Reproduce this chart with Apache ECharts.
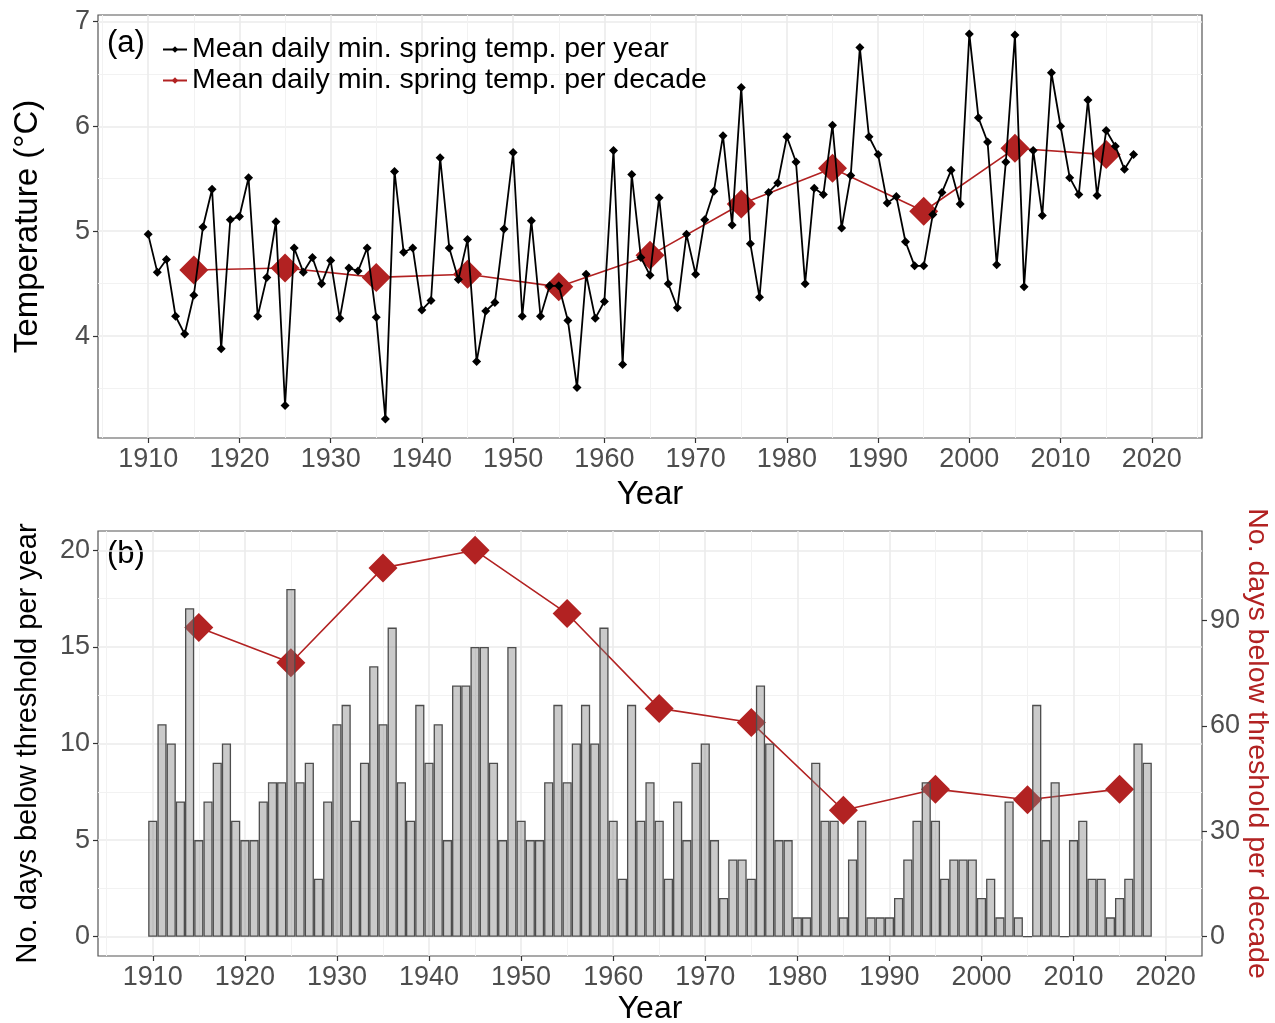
<!DOCTYPE html>
<html>
<head>
<meta charset="utf-8">
<title>Spring temperature and cold days</title>
<script src="https://cdn.jsdelivr.net/npm/echarts@6/dist/echarts.min.js"></script>
<style>
  html, body { margin: 0; padding: 0; background: #fff; }
  #main { width: 1275px; height: 1023px; }
</style>
</head>
<body>
<div id="main"></div>
<script>
// years of record
const years = [
  1910, 1911, 1912, 1913, 1914, 1915, 1916, 1917, 1918, 1919,
  1920, 1921, 1922, 1923, 1924, 1925, 1926, 1927, 1928, 1929,
  1930, 1931, 1932, 1933, 1934, 1935, 1936, 1937, 1938, 1939,
  1940, 1941, 1942, 1943, 1944, 1945, 1946, 1947, 1948, 1949,
  1950, 1951, 1952, 1953, 1954, 1955, 1956, 1957, 1958, 1959,
  1960, 1961, 1962, 1963, 1964, 1965, 1966, 1967, 1968, 1969,
  1970, 1971, 1972, 1973, 1974, 1975, 1976, 1977, 1978, 1979,
  1980, 1981, 1982, 1983, 1984, 1985, 1986, 1987, 1988, 1989,
  1990, 1991, 1992, 1993, 1994, 1995, 1996, 1997, 1998, 1999,
  2000, 2001, 2002, 2003, 2004, 2005, 2006, 2007, 2008, 2009,
  2010, 2011, 2012, 2013, 2014, 2015, 2016, 2017, 2018
];

// (a) mean daily min spring temp per year
const tempYear = [
  4.97, 4.61, 4.73, 4.19, 4.02, 4.39, 5.04, 5.40, 3.88, 5.11,
  5.14, 5.51, 4.19, 4.56, 5.09, 3.34, 4.84, 4.61, 4.75, 4.50,
  4.72, 4.17, 4.65, 4.62, 4.84, 4.18, 3.21, 5.57, 4.80, 4.84,
  4.25, 4.34, 5.70, 4.84, 4.54, 4.92, 3.76, 4.24, 4.32, 5.02,
  5.75, 4.19, 5.10, 4.19, 4.48, 4.48, 4.15, 3.51, 4.59, 4.17,
  4.33, 5.77, 3.73, 5.54, 4.75, 4.58, 5.32, 4.50, 4.27, 4.97,
  4.59, 5.11, 5.38, 5.91, 5.06, 6.37, 4.88, 4.37, 5.37, 5.46,
  5.90, 5.66, 4.50, 5.41, 5.35, 6.01, 5.03, 5.53, 6.75, 5.90,
  5.73, 5.27, 5.33, 4.90, 4.67, 4.67, 5.16, 5.37, 5.58, 5.26,
  6.88, 6.08, 5.85, 4.68, 5.66, 6.87, 4.47, 5.77, 5.15, 6.51,
  6.00, 5.51, 5.35, 6.25, 5.34, 5.96, 5.81, 5.59, 5.73
];

// decade midpoints and decade values
const decadeMid = [1915, 1925, 1935, 1945, 1955, 1965, 1975, 1985, 1995, 2005, 2015];
const tempDecade = [4.63, 4.65, 4.56, 4.59, 4.47, 4.77, 5.26, 5.60, 5.19, 5.79, 5.73];

// (b) no. days below threshold
const daysYear = [
  6, 11, 10, 7, 17, 5, 7, 9, 10, 6,
  5, 5, 7, 8, 8, 18, 8, 9, 3, 7,
  11, 12, 6, 9, 14, 11, 16, 8, 6, 12,
  9, 11, 5, 13, 13, 15, 15, 9, 5, 15,
  6, 5, 5, 8, 12, 8, 10, 12, 10, 16,
  6, 3, 12, 6, 8, 6, 3, 7, 5, 9,
  10, 5, 2, 4, 4, 3, 13, 10, 5, 5,
  1, 1, 9, 6, 6, 1, 4, 6, 1, 1,
  1, 2, 4, 6, 8, 6, 3, 4, 4, 4,
  2, 3, 1, 7, 1, 0, 12, 5, 8, 0,
  5, 6, 3, 3, 1, 2, 3, 10, 9
];
const daysDecade = [88, 78, 105, 110, 92, 65, 61, 36, 42, 39, 42];

// tick labels
const yearTicks = [1910, 1920, 1930, 1940, 1950, 1960, 1970, 1980, 1990, 2000, 2010, 2020];
const yearMinorTop = [1905, 1915, 1925, 1935, 1945, 1955, 1965, 1975, 1985, 1995, 2005, 2015, 2025];
const yearMinorBot = [1905, 1915, 1925, 1935, 1945, 1955, 1965, 1975, 1985, 1995, 2005, 2015];
const tempTicks = [4, 5, 6, 7];
const tempMinor = [3.5, 4.5, 5.5, 6.5];
const dayTicks = [0, 5, 10, 15, 20];
const dayMinor = [2.5, 7.5, 12.5, 17.5];
const decadeTicks = [0, 30, 60, 90];

const RED = '#B22222';
const FONT = 'Liberation Sans, Arial, sans-serif';
const nameYear = 'Mean daily min. spring temp. per year';
const nameDecade = 'Mean daily min. spring temp. per decade';

const chart = echarts.init(document.getElementById('main'));

function mainX(grid, min, max, gap, nameSize) {
  return {
    type: 'value', gridIndex: grid, min: min, max: max, position: 'bottom',
    name: 'Year', nameLocation: 'middle', nameGap: gap,
    nameTextStyle: { fontSize: nameSize, color: '#000' },
    axisLine: { show: false, onZero: false },
    axisTick: { show: true, length: 5, customValues: yearTicks, lineStyle: { color: '#333', width: 1.2 } },
    axisLabel: { customValues: yearTicks, fontSize: 27, color: '#4d4d4d', margin: 8, formatter: v => String(v) },
    splitLine: { show: true, lineStyle: { color: '#ebebeb', width: 1.6 } }
  };
}
// extra hidden axis that only draws the thin minor grid lines
function minorAxis(grid, min, max, vals) {
  return {
    type: 'value', gridIndex: grid, min: min, max: max,
    axisLine: { show: false, onZero: false }, axisLabel: { show: false },
    axisTick: { show: false, customValues: vals },
    splitLine: { show: true, lineStyle: { color: '#f2f2f2', width: 1 } }
  };
}
function mainY(grid, min, max, ticks, name, gap, nameSize) {
  return {
    type: 'value', gridIndex: grid, min: min, max: max, position: 'left',
    name: name, nameLocation: 'middle', nameGap: gap,
    nameTextStyle: { fontSize: nameSize, color: '#000' },
    axisLine: { show: false, onZero: false },
    axisTick: { show: true, length: 5, customValues: ticks, lineStyle: { color: '#333', width: 1.2 } },
    axisLabel: { customValues: ticks, fontSize: 27, color: '#4d4d4d', margin: 8 },
    splitLine: { show: true, lineStyle: { color: '#ebebeb', width: 1.6 } }
  };
}

const option = {
  animation: false,
  backgroundColor: '#fff',
  textStyle: { fontFamily: FONT },
  grid: [
    { left: 98, right: 73, top: 15, height: 423, containLabel: false, outerBoundsMode: 'none',
      show: true, borderColor: '#555', borderWidth: 1.2, backgroundColor: 'transparent' },
    { left: 98, right: 73, top: 531, height: 425, containLabel: false, outerBoundsMode: 'none',
      show: true, borderColor: '#555', borderWidth: 1.2, backgroundColor: 'transparent' }
  ],
  legend: {
    orient: 'vertical', left: 157, top: 30, itemWidth: 24, itemHeight: 8, itemGap: 2,
    textStyle: { fontSize: 28.5, color: '#000' },
    data: [nameYear, nameDecade]
  },
  graphic: [
    { type: 'text', left: 107, top: 28, style: { text: '(a)', fontSize: 31, fill: '#000', fontFamily: FONT } },
    { type: 'text', left: 107, top: 539, style: { text: '(b)', fontSize: 31, fill: '#000', fontFamily: FONT } }
  ],
  xAxis: [
    mainX(0, 1904.5, 2025.5, 40, 33),
    minorAxis(0, 1904.5, 2025.5, yearMinorTop),
    mainX(1, 1904.05, 2023.95, 37, 32),
    minorAxis(1, 1904.05, 2023.95, yearMinorBot)
  ],
  yAxis: [
    mainY(0, 3.03, 7.06, tempTicks, 'Temperature (°C)', 54, 33),
    minorAxis(0, 3.03, 7.06, tempMinor),
    mainY(1, -1, 21, dayTicks, 'No. days below threshold per year', 56, 29),
    {
      type: 'value', gridIndex: 1, position: 'right', min: -5.5, max: 115.5,
      name: 'No. days below threshold per decade', nameLocation: 'middle', nameGap: 40, nameRotate: -90,
      nameMoveOverlap: false,
      nameTextStyle: { fontSize: 28.5, color: RED },
      axisLine: { show: false, onZero: false },
      axisTick: { show: true, length: 5, customValues: decadeTicks, lineStyle: { color: '#333', width: 1.2 } },
      axisLabel: { customValues: decadeTicks, fontSize: 27, color: '#4d4d4d', margin: 8 },
      splitLine: { show: false }
    },
    minorAxis(1, -1, 21, dayMinor)
  ],
  series: [
    {
      name: nameDecade, type: 'line', xAxisIndex: 0, yAxisIndex: 0, z: 2,
      data: decadeMid.map((y, i) => [y, tempDecade[i]]),
      symbol: 'diamond', symbolSize: 29,
      itemStyle: { color: RED }, lineStyle: { color: RED, width: 1.6 }
    },
    {
      name: nameYear, type: 'line', xAxisIndex: 0, yAxisIndex: 0, z: 3,
      data: years.map((y, i) => [y, tempYear[i]]),
      symbol: 'diamond', symbolSize: 9,
      itemStyle: { color: '#000' }, lineStyle: { color: '#000', width: 1.8 }
    },
    {
      name: 'decade days', type: 'line', xAxisIndex: 2, yAxisIndex: 3, z: 2,
      data: decadeMid.map((y, i) => [y, daysDecade[i]]),
      symbol: 'diamond', symbolSize: 29,
      itemStyle: { color: RED }, lineStyle: { color: RED, width: 1.6 }
    },
    {
      name: 'year days', type: 'bar', xAxisIndex: 2, yAxisIndex: 2, z: 3,
      data: years.map((y, i) => [y, daysYear[i]]),
      barWidth: 9.2,
      itemStyle: { color: 'rgba(128,128,128,0.42)', borderColor: '#4d4d4d', borderWidth: 1.3 }
    }
  ]
};
chart.setOption(option);
</script>
</body>
</html>
